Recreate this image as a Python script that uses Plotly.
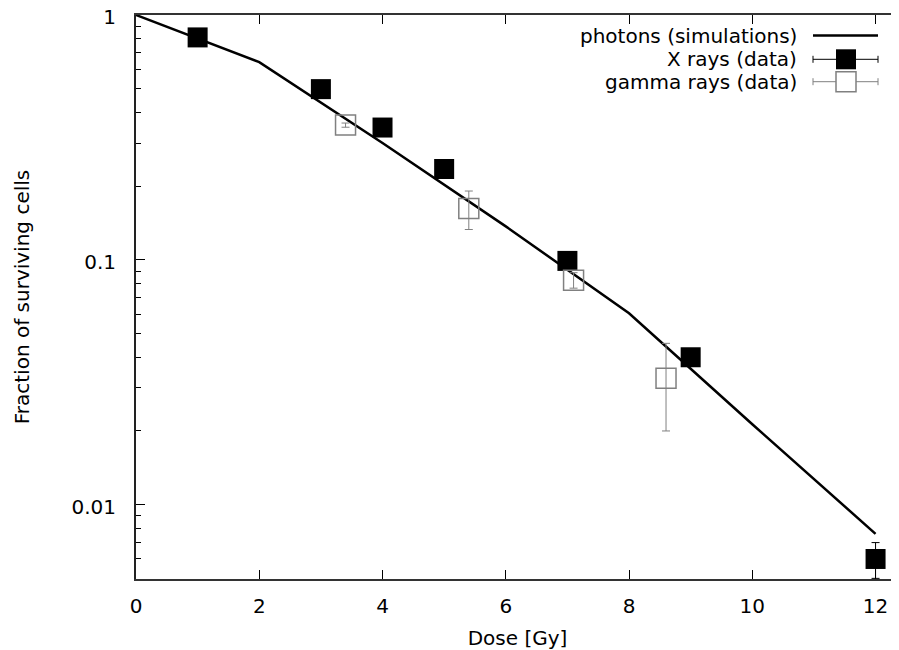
import plotly.graph_objects as go
import numpy as np

# ---- data ----
sim_dose = [0, 2, 4, 6, 8, 10, 12]
sim_frac = [1.0, 0.642, 0.30, 0.137, 0.0605, 0.0213, 0.0076]

xray_dose = [1, 3, 4, 5, 7, 9, 12]
xray_frac = [0.81, 0.498, 0.347, 0.235, 0.099, 0.040, 0.006]
xray_err = [0.02, 0.02, 0.015, 0.01, 0.004, 0.002, 0.001]

gamma_dose = [3.4, 5.4, 7.1, 8.6]
gamma_frac = [0.355, 0.162, 0.0826, 0.0328]
gamma_err = [0.007, 0.029, 0.006, 0.0128]

x_ticks = [0, 2, 4, 6, 8, 10, 12]
y_ticks = [0.01, 0.1, 1]
y_ticktext = ["0.01", "0.1", "1"]

legend_labels = ["photons (simulations)", "X rays (data)", "gamma rays (data)"]

# ---- layout geometry (page has an 8px body margin) ----
OFF = 8
W, H = 899 - OFF, 650 - OFF
L, T = 136 - OFF, 15 - OFF
R = 0
B = H - (579 - OFF)
PW, PH = W - L - R, H - T - B
XMAX = PW / 61.63
FONT = "DejaVu Sans"
GRAY = "#808080"


def px(x):
    return (x - OFF - L) / PW


def py(y):
    return (H - B - (y - OFF)) / PH


fig = go.Figure()
fig.add_trace(go.Scatter(x=sim_dose, y=sim_frac, mode="lines",
                         line=dict(color="black", width=2.5),
                         name=legend_labels[0]))
fig.add_trace(go.Scatter(x=xray_dose, y=xray_frac, mode="markers",
                         marker=dict(symbol="square", size=20, color="black",
                                     line=dict(width=0)),
                         error_y=dict(type="data", array=xray_err, color="black",
                                      thickness=1, width=4),
                         name=legend_labels[1]))
fig.add_trace(go.Scatter(x=gamma_dose, y=gamma_frac, mode="markers",
                         marker=dict(symbol="square-open", size=20, color=GRAY,
                                     line=dict(width=1.5, color=GRAY)),
                         error_y=dict(type="data", array=gamma_err, color=GRAY,
                                      thickness=1, width=4),
                         name=legend_labels[2]))

minor_vals = [m * 10.0 ** e for e in (-3, -2, -1) for m in range(2, 10)]

fig.update_layout(
    width=W, height=H,
    margin=dict(l=L, r=R, t=T, b=B, pad=0, autoexpand=False),
    paper_bgcolor="white", plot_bgcolor="white",
    showlegend=False,
    font=dict(family=FONT, size=20, color="black"),
    xaxis=dict(range=[0, XMAX], tickmode="array", tickvals=x_ticks,
               ticks="inside", ticklen=9, tickwidth=1, tickcolor="black",
               showline=True, linecolor="#333", linewidth=2, mirror="ticks",
               showgrid=False, zeroline=False, automargin=False,
               tickfont=dict(family=FONT, size=20, color="black"),
               ticklabelstandoff=8,
               title=dict(text="Dose [Gy]", font=dict(family=FONT, size=20),
                          standoff=17)),
    yaxis=dict(type="log", range=[np.log10(0.00497), 0], tickmode="array",
               tickvals=y_ticks, ticktext=y_ticktext,
               ticks="inside", ticklen=9, tickwidth=1, tickcolor="black",
               minor=dict(tickmode="array", tickvals=minor_vals, ticks="inside",
                          ticklen=5, tickwidth=1, tickcolor="black"),
               showline=True, linecolor="#222", linewidth=2, mirror=False,
               showgrid=False, zeroline=False, automargin=False,
               ticklabeloverflow="allow", ticklabelshift=2,
               tickfont=dict(family=FONT, size=20, color="black"),
               ticklabelstandoff=14,
               title=dict(text="Fraction of surviving cells",
                          font=dict(family=FONT, size=20), standoff=36)),
)

# ---- custom legend (gnuplot style: text right, sample on the right) ----
rows_y = [35.5, 59.3, 81.7]
text_right = 799
s_x0, s_x1, s_xc = 813, 878, 846
annotations = []
for lab, ry in zip(legend_labels, rows_y):
    annotations.append(dict(text=lab, x=px(text_right), y=py(ry), xref="paper", yref="paper",
                            xanchor="right", yanchor="middle", showarrow=False,
                            font=dict(family=FONT, size=20, color="black")))
shapes = []
shapes.append(dict(type="line", xref="paper", yref="paper", x0=px(s_x0), x1=px(s_x1),
                   y0=py(rows_y[0]), y1=py(rows_y[0]), line=dict(color="black", width=2.5)))
for ry, col, filled in ((rows_y[1], "black", True), (rows_y[2], GRAY, False)):
    shapes.append(dict(type="line", xref="paper", yref="paper", x0=px(s_x0), x1=px(s_x1),
                       y0=py(ry), y1=py(ry), line=dict(color=col, width=1)))
    for cx in (s_x0, s_x1):
        shapes.append(dict(type="line", xref="paper", yref="paper", x0=px(cx), x1=px(cx),
                           y0=py(ry - 3.5), y1=py(ry + 3.5), line=dict(color=col, width=1)))
    shapes.append(dict(type="rect", xref="paper", yref="paper",
                       x0=px(s_xc - 10), x1=px(s_xc + 10), y0=py(ry + 10), y1=py(ry - 10),
                       fillcolor="black" if filled else "white",
                       line=dict(color=col, width=0 if filled else 1.5)))

fig.update_layout(annotations=annotations, shapes=shapes)
fig.write_html("out.html")
